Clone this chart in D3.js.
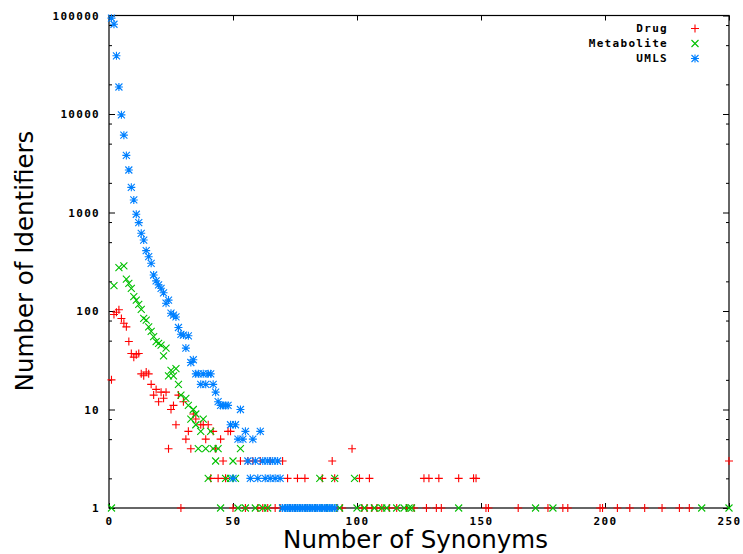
<!DOCTYPE html>
<meta charset="utf-8">
<style>
  body { margin: 0; background: #fff; }
  .tick text, .legend text {
    font-family: "DejaVu Sans Mono", monospace;
    font-weight: bold;
    font-size: 11px;
    letter-spacing: 1.3px;
    fill: #000;
  }
  .domain { display: none; }
  .tick line { stroke: #000; }
  .title {
    font-family: "DejaVu Sans", sans-serif;
    font-size: 24.5px;
    fill: #000;
  }
</style>
<body>
<div id="chart"></div>
<script src="https://d3js.org/d3.v7.min.js"></script>
<script>
// chart size
var width = 743,
    height = 554;

// series names
var seriesNames = ["Drug", "Metabolite", "UMLS"];

// x and y ticks
var xTicks = [0, 50, 100, 150, 200, 250];
var yTicks = [1, 10, 100, 1000, 10000, 100000];
var yMinorSteps = [2, 5, 8];

// [number of synonyms, number of identifiers]
var drug = [
  [1,20],[2,92],[3,97],[4,103],[5,84],[6,75],[7,69],[8,49],[9,37],[10,34],
  [11,36],[12,37],[13,23],[14,22],[15,24],[16,23],[17,18],[18,14],[19,16],[20,12],
  [21,15],[22,13],[23,15],[24,4],[25,10],[26,11],[27,7],[28,14],[29,1],[30,12],
  [31,5],[32,6],[33,4],[34,9],[35,8],[37,7],[38,7],[39,5],[40,7],[41,2],
  [42,6],[43,4],[44,2],[45,5],[46,3],[47,2],[48,6],[49,6],[50,1],[53,3],
  [55,1],[56,3],[58,3],[60,1],[61,3],[62,1],[64,1],[65,3],[67,1],[69,1],
  [70,3],[72,2],[73,1],[75,1],[76,2],[79,2],[80,1],[83,1],[86,2],[88,1],
  [90,3],[91,2],[92,1],[94,1],[98,4],[101,2],[102,1],[104,1],[105,2],[106,1],
  [108,1],[110,1],[113,1],[116,1],[120,1],[123,1],[127,2],[128,1],[129,2],[132,1],
  [133,2],[134,1],[141,2],[147,2],[148,2],[152,1],[153,1],[165,1],[177,1],[183,1],
  [185,1],[198,1],[199,1],[205,1],[210,1],[216,1],[223,1],[230,1],[234,1],[250,3]
];

var metabolite = [
  [1,1],[2,181],[4,275],[6,287],[7,211],[8,191],[9,170],[10,140],[11,129],[12,117],
  [13,104],[14,84],[15,81],[16,69],[17,62],[18,55],[19,49],[20,47],[21,45],[22,35],
  [23,42],[24,22],[25,25],[26,22],[27,26],[28,18],[29,14],[31,13],[32,11],[33,8],
  [34,10],[35,9],[36,4],[35,7],[37,6],[38,8],[39,4],[40,2],[41,6],[42,4],
  [43,3],[44,4],[45,1],[47,2],[49,2],[50,3],[51,2],[52,1],[53,4],[55,1],
  [59,1],[62,1],[64,1],[70,1],[74,1],[78,1],[82,1],[85,2],[87,1],[89,1],
  [91,2],[93,1],[99,2],[100,1],[103,1],[107,1],[110,1],[112,1],[116,1],[119,1],
  [121,1],[122,1],[141,1],[172,1],[179,1],[239,1],[250,1]
];

var umls = [
  [1,94000],[2,81500],[3,39000],[4,18800],[5,9800],[6,6100],[7,3800],[8,2700],[9,1800],[10,1340],
  [11,960],[12,790],[13,615],[14,525],[15,410],[16,356],[17,305],[18,232],[19,202],[20,184],
  [21,170],[22,153],[23,120],[24,129],[25,95],[26,91],[27,87],[28,68],[29,58],[30,57],
  [31,42],[32,56],[33,30],[34,32],[35,23],[36,23],[37,18],[38,23],[39,18],[40,23],
  [41,23],[42,18],[43,15],[44,12],[45,11],[46,11],[47,11],[48,11],[49,7],[50,2],
  [51,7],[52,5],[53,10],[54,5],[55,6],[56,3],[57,2],[58,5],[59,3],[60,2],
  [61,6],[62,3],[63,2],[64,3],[65,2],[66,3],[67,2],[68,3],[69,2],[70,1],
  [71,1],[72,1],[73,1],[74,1],[75,1],[76,1],[77,1],[78,1],[79,1],[80,1],
  [81,1],[82,1],[83,1],[84,1],[85,1],[86,1],[87,1],[88,1],[89,1],[90,1],[91,1]
];

var colors = ["#ff0000", "#00c000", "#0080ff"];

// plot area
var plotLeft = 109, plotRight = 729, plotTop = 15.5, plotBottom = 508;

var x = d3.scaleLinear().domain([0, 250]).range([plotLeft, plotRight]);
var y = d3.scaleLog().domain([1, 100000]).range([plotBottom, plotTop]);

var svg = d3.select("#chart").append("svg")
    .attr("width", width)
    .attr("height", height);

// minor y ticks at 2, 5, 8 per decade
var yMinor = [];
yTicks.slice(0, -1).forEach(function(d) {
  yMinorSteps.forEach(function(m) { yMinor.push(d * m); });
});

// bottom axis with labels, ticks pointing inward
svg.append("g")
    .attr("transform", "translate(0," + plotBottom + ")")
    .call(d3.axisBottom(x).tickValues(xTicks).tickSizeInner(-5).tickSizeOuter(0).tickPadding(9));

// top mirror ticks
svg.append("g")
    .attr("transform", "translate(0," + plotTop + ")")
    .call(d3.axisTop(x).tickValues(xTicks).tickSizeInner(-5).tickSizeOuter(0).tickFormat(""));

// left axis with labels
svg.append("g")
    .attr("transform", "translate(" + plotLeft + ",0)")
    .call(d3.axisLeft(y).tickValues(yTicks).tickSizeInner(-6).tickSizeOuter(0).tickPadding(9)
      .tickFormat(d3.format("d")));

svg.append("g")
    .attr("transform", "translate(" + plotLeft + ",0)")
    .call(d3.axisLeft(y).tickValues(yMinor).tickSizeInner(-3).tickSizeOuter(0).tickFormat(""));

// right mirror ticks
svg.append("g")
    .attr("transform", "translate(" + plotRight + ",0)")
    .call(d3.axisRight(y).tickValues(yTicks).tickSizeInner(-6).tickSizeOuter(0).tickFormat(""));

svg.append("g")
    .attr("transform", "translate(" + plotRight + ",0)")
    .call(d3.axisRight(y).tickValues(yMinor).tickSizeInner(-3).tickSizeOuter(0).tickFormat(""));

// plot border
svg.append("rect")
    .attr("x", plotLeft)
    .attr("y", plotTop)
    .attr("width", plotRight - plotLeft)
    .attr("height", plotBottom - plotTop)
    .attr("fill", "none")
    .attr("stroke", "#000")
    .attr("stroke-width", 1.2);

// point shapes: plus, cross, star
var plus = "M-4,0H4M0,-4V4",
    cross = "M-3.5,-3.5L3.5,3.5M-3.5,3.5L3.5,-3.5";
var shapes = [plus, cross, plus + cross];

[drug, metabolite, umls].forEach(function(data, i) {
  svg.append("g")
    .selectAll("path")
      .data(data)
    .enter().append("path")
      .attr("transform", function(d) { return "translate(" + x(d[0]) + "," + y(d[1]) + ")"; })
      .attr("d", shapes[i])
      .attr("fill", "none")
      .attr("stroke", colors[i])
      .attr("stroke-width", 1.1);
});

// legend
var legend = svg.append("g").attr("class", "legend");
seriesNames.forEach(function(name, i) {
  var ly = 28.5 + i * 15;
  legend.append("text")
      .attr("x", 668)
      .attr("y", ly)
      .attr("dy", "0.35em")
      .attr("text-anchor", "end")
      .text(name);
  legend.append("path")
      .attr("transform", "translate(695," + ly + ")")
      .attr("d", shapes[i])
      .attr("fill", "none")
      .attr("stroke", colors[i])
      .attr("stroke-width", 1.1);
});

// axis titles
svg.append("text")
    .attr("class", "title")
    .attr("x", 415.5)
    .attr("y", 548)
    .attr("text-anchor", "middle")
    .text("Number of Synonyms");

svg.append("text")
    .attr("class", "title")
    .attr("transform", "translate(33," + 261 + ")rotate(-90)")
    .attr("text-anchor", "middle")
    .text("Number of Identifiers");
</script>
</body>
